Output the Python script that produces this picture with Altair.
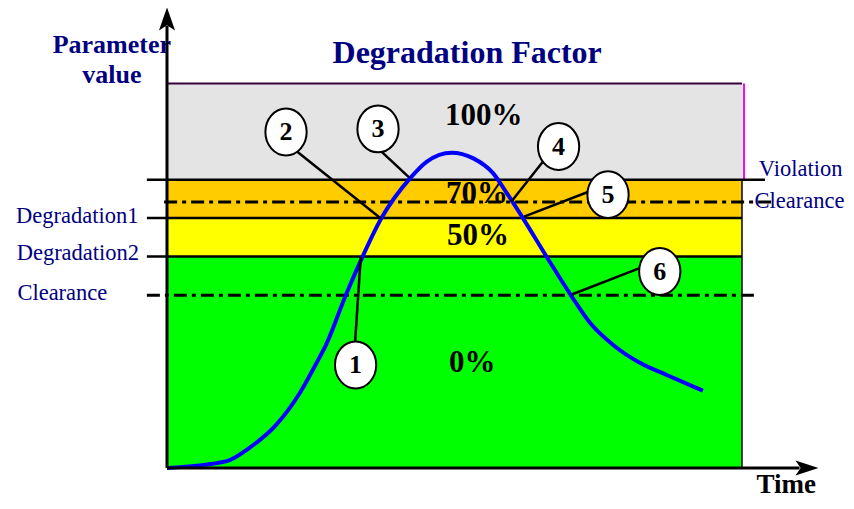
import altair as alt
import pandas as pd

# ---------------- data ----------------
curve_t = [0, 10.4, 14.4, 19.1, 23.1, 26.0, 27.8, 31.0, 33.9, 37.3, 42.3, 45.2, 49.5,
           53.2, 56.7, 59.1, 61.9, 66.0, 70.4, 73.6, 77.6, 82.3, 86.9, 93.2]
curve_v = [0, 1.8, 5.3, 11.4, 19.5, 27.3, 32.5, 44.6, 54.6, 65.0, 75.4, 79.7, 82.0,
           80.6, 76.7, 71.5, 65.0, 55.0, 44.6, 37.7, 32.0, 27.3, 24.2, 20.1]

zone_names = ["0%", "50%", "70%", "100%"]
zone_lo = [0, 55, 65, 75]
zone_hi = [55, 65, 75, 100]
zone_colors = ["#00ff00", "#ffff00", "#ffcc00", "#e4e4e4"]

# threshold lines (value, start time, end time)
solid_names = ["Violation", "Degradation1", "Degradation2"]
solid_v = [75, 65, 55]
solid_t0 = [-3.5, -3.5, -3.5]
solid_t1 = [104.0, 100, 100]

clear_names = ["Clearance high", "Clearance low"]
clear_v = [69.2, 44.9]
clear_t0 = [-0.5, -3.5]
clear_t1 = [105.4, 102.3]

# callouts
call_id = ["1", "2", "3", "4", "5", "6"]
call_t = [32.8, 20.7, 36.7, 68.1, 76.7, 85.7]
call_v = [26.8, 87.4, 88.2, 83.6, 71.1, 51.1]
lead_t0 = [32.7, 22.6, 37.3, 65.4, 74.1, 83.1]
lead_v0 = [32.5, 82.3, 82.3, 79.7, 72.3, 52.5]
lead_t1 = [33.7, 37.2, 42.1, 59.9, 62.1, 70.5]
lead_v1 = [54.9, 64.9, 75.6, 69.3, 65.4, 45.2]

# zone percentage labels
pct_text = ["100%", "70%", "50%", "0%"]
pct_t = [55.1, 53.9, 54.1, 53.1]
pct_v = [89.2, 69.0, 58.0, 25.0]

# side labels
side_text = ["Violation", "Clearance", "Degradation1", "Degradation2", "Clearance"]
side_t = [110.2, 110.0, -15.6, -15.5, -18.2]
side_v = [76.0, 67.5, 63.6, 54.1, 43.7]

title_text = ["Degradation Factor", "Parameter", "value"]
title_t = [52.2, -9.6, -9.6]
title_v = [105.3, 107.9, 100.1]
title_size = [32, 26, 26]

# ---------------- scales ----------------
XMAX = 113.22
YMAX = 119.64
xs = alt.Scale(domain=[0, XMAX], nice=False, zero=False)
ys = alt.Scale(domain=[0, YMAX], nice=False, zero=False)


def X(f):
    return alt.X(f, type="quantitative", scale=xs, axis=None)


def Y(f):
    return alt.Y(f, type="quantitative", scale=ys, axis=None)


FONT = "Liberation Serif"
NAVY = "#000080"

zones = pd.DataFrame({"zone": zone_names, "lo": zone_lo, "hi": zone_hi,
                      "t0": [0] * 4, "t1": [100] * 4})
zone_layer = alt.Chart(zones).mark_rect().encode(
    x=X("t0"), x2="t1", y=Y("lo"), y2="hi",
    color=alt.Color("zone:N", scale=alt.Scale(domain=zone_names, range=zone_colors), legend=None),
)

# borders of gray zone
gray_top = alt.Chart(pd.DataFrame({"t0": [0], "t1": [100], "v": [100]})).mark_rule(
    color="#3a003a", strokeWidth=2).encode(x=X("t0"), x2="t1", y=Y("v"))
gray_right = alt.Chart(pd.DataFrame({"t": [100.35], "v0": [75], "v1": [100]})).mark_rule(
    color="#ff00ff", strokeWidth=2).encode(x=X("t"), y=Y("v0"), y2="v1")
right_edge = alt.Chart(pd.DataFrame({"t": [100], "v0": [0], "v1": [75]})).mark_rule(
    color="black", strokeWidth=1.5).encode(x=X("t"), y=Y("v0"), y2="v1")

solid = pd.DataFrame({"name": solid_names, "v": solid_v, "t0": solid_t0, "t1": solid_t1})
solid_layer = alt.Chart(solid).mark_rule(color="black", strokeWidth=2.5).encode(
    x=X("t0"), x2="t1", y=Y("v"))

clear = pd.DataFrame({"name": clear_names, "v": clear_v, "t0": clear_t0, "t1": clear_t1})
clear_layer = alt.Chart(clear).mark_rule(color="black", strokeWidth=3,
                                         strokeDash=[13, 5, 4, 5]).encode(
    x=X("t0"), x2="t1", y=Y("v"))

pct = pd.DataFrame({"text": pct_text, "t": pct_t, "v": pct_v})
pct_layer = alt.Chart(pct).mark_text(font=FONT, fontWeight="bold", fontSize=31, color="black",
                                     align="center", baseline="alphabetic").encode(
    x=X("t"), y=Y("v"), text="text:N")

curve = pd.DataFrame({"t": curve_t, "v": curve_v})
curve_layer = alt.Chart(curve).mark_line(color="#0000ff", strokeWidth=4,
                                         interpolate="monotone").encode(
    x=X("t"), y=Y("v"))

lead = pd.DataFrame({"id": call_id, "t0": lead_t0, "v0": lead_v0, "t1": lead_t1, "v1": lead_v1})
lead_layer = alt.Chart(lead).mark_rule(color="black", strokeWidth=2.5).encode(
    x=X("t0"), x2="t1", y=Y("v0"), y2="v1")

ELLIPSE = "M -0.88,0 A 0.88,1 0 1,0 0.88,0 A 0.88,1 0 1,0 -0.88,0 Z"
calls = pd.DataFrame({"id": call_id, "t": call_t, "v": call_v})
circle_layer = alt.Chart(calls).mark_point(shape=ELLIPSE, size=2200, filled=True, fill="white",
                                           stroke="black", strokeWidth=2, opacity=1).encode(
    x=X("t"), y=Y("v"))
num_layer = alt.Chart(calls).mark_text(font=FONT, fontWeight="bold", fontSize=26, color="black",
                                       align="center", baseline="middle").encode(
    x=X("t"), y=Y("v"), text="id:N")

side = pd.DataFrame({"text": side_text, "t": side_t, "v": side_v})
side_layer = alt.Chart(side).mark_text(font=FONT, fontSize=22.5, color=NAVY,
                                       align="center", baseline="alphabetic").encode(
    x=X("t"), y=Y("v"), text="text:N")

titles = pd.DataFrame({"text": title_text, "t": title_t, "v": title_v, "s": title_size})
title_layer = alt.Chart(titles).mark_text(font=FONT, fontWeight="bold", color=NAVY,
                                          align="center", baseline="alphabetic").encode(
    x=X("t"), y=Y("v"), text="text:N",
    size=alt.Size("s:Q", scale=None, legend=None))

time_layer = alt.Chart(pd.DataFrame({"text": ["Time"], "t": [107.7], "v": [-6.5]})).mark_text(
    font=FONT, fontWeight="bold", fontSize=27, color="black", align="center",
    baseline="alphabetic").encode(x=X("t"), y=Y("v"), text="text:N")

# axes with arrows
yaxis = alt.Chart(pd.DataFrame({"t": [0], "v0": [0], "v1": [115]})).mark_rule(
    color="black", strokeWidth=3).encode(x=X("t"), y=Y("v0"), y2="v1")
xaxis = alt.Chart(pd.DataFrame({"t0": [0], "t1": [110], "v": [0]})).mark_rule(
    color="black", strokeWidth=3).encode(x=X("t0"), x2="t1", y=Y("v"))
UP = "M 0,-1 L 0.7,1 L 0,0.55 L -0.7,1 Z"
RIGHT = "M 1,0 L -1,0.65 L -0.55,0 L -1,-0.65 Z"
up_arrow = alt.Chart(pd.DataFrame({"t": [0], "v": [116.8]})).mark_point(
    shape=UP, size=529, filled=True, color="black", opacity=1).encode(x=X("t"), y=Y("v"))
right_arrow = alt.Chart(pd.DataFrame({"t": [111.3], "v": [0]})).mark_point(
    shape=RIGHT, size=529, filled=True, color="black", opacity=1).encode(x=X("t"), y=Y("v"))

chart = alt.layer(
    zone_layer, gray_top, gray_right, right_edge, solid_layer, clear_layer, pct_layer,
    curve_layer, lead_layer, circle_layer, num_layer, side_layer, title_layer, time_layer,
    yaxis, xaxis, up_arrow, right_arrow,
).properties(
    width=651, height=460,
    autosize=alt.AutoSizeParams(type="none"),
    padding={"left": 159, "top": 0, "right": 28, "bottom": 33},
).configure_view(strokeWidth=0)

chart.save("out.html", embed_options={"renderer": "svg", "actions": False})
